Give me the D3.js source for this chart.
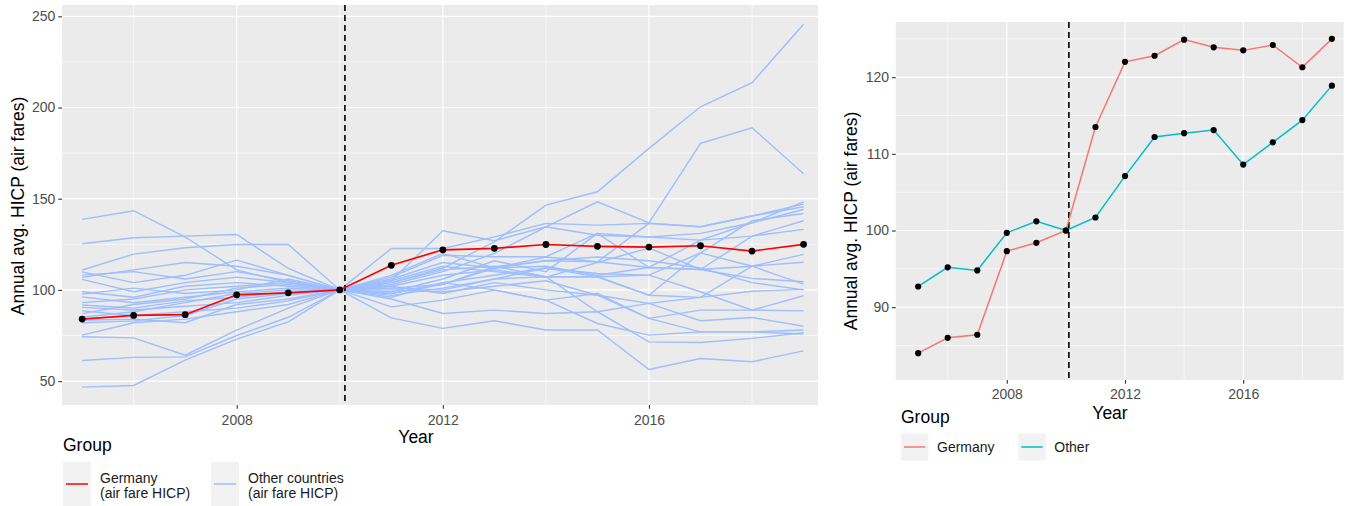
<!DOCTYPE html>
<html>
<head>
<meta charset="utf-8">
<script src="https://cdn.jsdelivr.net/npm/d3@7"></script>
<style>
  body { margin: 0; background: #fff; }
  text { font-family: "Liberation Sans", Arial, sans-serif; }
</style>
</head>
<body>
<div id="chart"></div>
<script>
/* HICP air fares: Germany vs other countries (two panels) */

const years = [2005, 2006, 2007, 2008, 2009, 2010, 2011, 2012, 2013, 2014, 2015, 2016, 2017, 2018, 2019];

const germany = [84.0, 86.0, 86.4, 97.3, 98.4, 100, 113.5, 122.0, 122.8, 124.9, 123.9, 123.5, 124.2, 121.3, 125.0];
const otherAvg = [92.7, 95.2, 94.8, 99.7, 101.2, 100, 101.7, 107.1, 112.2, 112.7, 113.1, 108.6, 111.5, 114.4, 118.9];

// one row per other country
const otherCountries = [
  [138.7, 143.4, 129.0, 111.0, 104.0, 100, 98.0, 103.0, 112.7, 116.0, 115.4, 112.3, 111.2, 106.3, 104.5],
  [125.3, 128.6, 129.5, 130.4, 111.8, 100, 107.0, 119.0, 118.2, 118.2, 131.0, 129.0, 127.3, 129.5, 133.2],
  [110.9, 119.6, 123.1, 124.9, 124.9, 100, 96.0, 104.0, 108.0, 112.0, 107.2, 108.1, 120.3, 113.0, 119.5],
  [109.9, 104.0, 108.0, 116.3, 108.0, 100, 122.7, 122.7, 129.1, 136.5, 135.5, 136.5, 134.6, 140.5, 147.0],
  [108.1, 110.0, 106.0, 110.0, 105.0, 100, 105.0, 132.4, 127.0, 134.6, 130.0, 129.0, 131.0, 136.8, 148.3],
  [106.9, 111.0, 115.0, 113.0, 108.0, 100, 104.0, 112.0, 126.4, 146.5, 153.8, 177.6, 200.4, 213.6, 245.6],
  [105.8, 99.0, 104.0, 107.0, 104.0, 100, 103.0, 110.0, 120.0, 134.6, 148.3, 136.8, 180.3, 188.9, 163.7],
  [99.0, 96.0, 102.0, 104.0, 102.0, 100, 99.0, 106.0, 116.0, 110.0, 131.0, 112.3, 127.3, 136.8, 144.1],
  [97.7, 101.0, 98.0, 100.0, 106.0, 100, 101.0, 103.0, 112.0, 118.0, 115.4, 136.5, 134.6, 140.5, 145.6],
  [96.2, 93.0, 96.0, 99.0, 101.0, 100, 102.0, 108.0, 111.0, 107.2, 107.2, 97.1, 120.3, 138.0, 141.9],
  [91.7, 90.0, 94.0, 96.0, 99.0, 100, 105.0, 113.0, 110.0, 107.0, 115.0, 123.0, 111.2, 129.5, 137.9],
  [90.4, 89.0, 91.0, 93.0, 97.0, 100, 100.0, 99.0, 102.0, 105.0, 97.1, 92.6, 95.9, 113.0, 115.2],
  [83.4, 84.0, 82.0, 92.0, 95.0, 100, 102.0, 98.0, 104.0, 100.0, 97.1, 84.4, 88.9, 88.9, 88.5],
  [88.5, 86.0, 88.0, 90.0, 94.0, 100, 104.0, 111.0, 113.0, 107.2, 107.2, 97.1, 95.9, 99.3, 100.3],
  [85.0, 88.0, 93.0, 98.0, 100.0, 100, 108.0, 120.0, 112.0, 113.0, 108.0, 112.3, 111.2, 113.0, 103.2],
  [82.0, 83.0, 86.0, 95.0, 98.0, 100, 97.0, 101.0, 106.0, 107.2, 88.0, 92.6, 83.1, 84.9, 80.1],
  [87.0, 92.0, 95.0, 101.0, 103.0, 100, 90.7, 94.4, 99.9, 94.4, 81.6, 75.2, 77.0, 77.0, 78.0],
  [46.7, 47.6, 61.5, 73.0, 82.5, 100, 84.7, 78.9, 83.1, 78.0, 78.0, 56.4, 62.4, 60.6, 66.6],
  [61.3, 63.0, 63.3, 75.0, 85.0, 100, 95.0, 87.1, 88.9, 87.1, 88.0, 71.5, 71.2, 73.4, 76.5],
  [74.3, 73.7, 64.2, 78.0, 90.0, 100, 98.0, 104.0, 100.0, 94.4, 98.0, 84.4, 77.0, 77.0, 75.8],
  [75.2, 82.0, 84.0, 88.0, 92.0, 100, 101.0, 100.0, 106.0, 112.0, 109.0, 108.1, 99.0, 88.9, 96.8],
  [93.0, 95.0, 100.0, 102.0, 104.0, 100, 106.0, 115.0, 112.0, 116.0, 118.0, 116.0, 112.0, 104.0, 100.0]
];

const xTicks = [2008, 2012, 2016];
const xMinor = [2006, 2010, 2014, 2018];
const leftYTicks = [50, 100, 150, 200, 250];
const leftYMinor = [75, 125, 175, 225];
const rightYTicks = [90, 100, 110, 120];
const rightYMinor = [85, 95, 105, 115, 125];
const breakYear = 2010.1;

const svg = d3.select("#chart")
  .append("svg")
  .attr("width", 1357)
  .attr("height", 506);

// draw one ggplot-style panel, returns scales + group
function panel(opt) {
  const x = d3.scaleLinear().domain(opt.xDomain).range([opt.left, opt.right]);
  const y = d3.scaleLinear().domain(opt.yDomain).range([opt.bottom, opt.top]);
  const g = svg.append("g");

  g.append("rect")
    .attr("x", opt.left).attr("y", opt.top)
    .attr("width", opt.right - opt.left).attr("height", opt.bottom - opt.top)
    .attr("fill", "#EBEBEB");

  // minor grid
  g.selectAll(".ymin").data(opt.yMinor).enter().append("line")
    .attr("x1", opt.left).attr("x2", opt.right)
    .attr("y1", d => y(d)).attr("y2", d => y(d))
    .attr("stroke", "#fff").attr("stroke-width", 0.6);
  g.selectAll(".xmin").data(xMinor).enter().append("line")
    .attr("y1", opt.top).attr("y2", opt.bottom)
    .attr("x1", d => x(d)).attr("x2", d => x(d))
    .attr("stroke", "#fff").attr("stroke-width", 0.6);
  // major grid
  g.selectAll(".ymaj").data(opt.yTicks).enter().append("line")
    .attr("x1", opt.left).attr("x2", opt.right)
    .attr("y1", d => y(d)).attr("y2", d => y(d))
    .attr("stroke", "#fff").attr("stroke-width", 1.2);
  g.selectAll(".xmaj").data(xTicks).enter().append("line")
    .attr("y1", opt.top).attr("y2", opt.bottom)
    .attr("x1", d => x(d)).attr("x2", d => x(d))
    .attr("stroke", "#fff").attr("stroke-width", 1.2);

  // axes
  const yAx = g.append("g")
    .attr("transform", "translate(" + opt.left + ",0)")
    .call(d3.axisLeft(y).tickValues(opt.yTicks).tickSize(3.7).tickPadding(3));
  const xAx = g.append("g")
    .attr("transform", "translate(0," + opt.bottom + ")")
    .call(d3.axisBottom(x).tickValues(xTicks).tickFormat(d3.format("d")).tickSize(3.7).tickPadding(3));
  [yAx, xAx].forEach(a => {
    a.select(".domain").remove();
    a.selectAll("line").attr("stroke", "#333").attr("stroke-width", 1.1);
    a.selectAll("text").attr("fill", "#4D4D4D").style("font-size", "14px")
      .style("font-family", "'Liberation Sans', Arial, sans-serif");
  });
  xAx.selectAll("text").attr("y", opt.xLabelY - opt.bottom).attr("dy", 0);

  return {x, y, g};
}

/* ---------- left panel ---------- */
const L = panel({
  left: 62, right: 818, top: 5, bottom: 405,
  xDomain: [2004.61, 2019.28], yDomain: [36.9, 256.2],
  yTicks: leftYTicks, yMinor: leftYMinor, xLabelY: 425
});

const lineL = d3.line().x((d, i) => L.x(years[i])).y(d => L.y(d));

L.g.selectAll(".other").data(otherCountries).enter().append("path")
  .attr("class", "other")
  .attr("fill", "none")
  .attr("stroke", "#9DBEFF")
  .attr("stroke-width", 1.4)
  .attr("d", lineL);

L.g.append("line")
  .attr("x1", L.x(breakYear)).attr("x2", L.x(breakYear))
  .attr("y1", 5).attr("y2", 405)
  .attr("stroke", "#000").attr("stroke-width", 1.6)
  .attr("stroke-dasharray", "6,4");

L.g.append("path")
  .attr("fill", "none")
  .attr("stroke", "#FF0000")
  .attr("stroke-width", 1.7)
  .attr("d", lineL(germany));

L.g.selectAll(".pt").data(germany).enter().append("circle")
  .attr("cx", (d, i) => L.x(years[i])).attr("cy", d => L.y(d))
  .attr("r", 3.4).attr("fill", "#000");

svg.append("text")
  .attr("transform", "translate(24,206) rotate(-90)")
  .attr("text-anchor", "middle")
  .style("font-size", "17.5px")
  .text("Annual avg. HICP (air fares)");

svg.append("text")
  .attr("x", 416).attr("y", 443)
  .attr("text-anchor", "middle")
  .style("font-size", "17.5px")
  .text("Year");

// left legend
svg.append("text").attr("x", 63).attr("y", 451).style("font-size", "17.5px").text("Group");
const legL = [
  {x: 63, color: "#FF0000", lines: ["Germany", "(air fare HICP)"]},
  {x: 211, color: "#9DBEFF", lines: ["Other countries", "(air fare HICP)"]}
];
legL.forEach(k => {
  svg.append("rect").attr("x", k.x).attr("y", 462).attr("width", 28).attr("height", 44).attr("fill", "#F2F2F2");
  svg.append("line").attr("x1", k.x + 3).attr("x2", k.x + 25).attr("y1", 484).attr("y2", 484)
    .attr("stroke", k.color).attr("stroke-width", 1.5);
  const t = svg.append("text").attr("x", k.x + 37).attr("y", 482.5).style("font-size", "14px").attr("fill", "#1a1a1a");
  t.append("tspan").attr("x", k.x + 37).text(k.lines[0]);
  t.append("tspan").attr("x", k.x + 37).attr("dy", 15).text(k.lines[1]);
});

/* ---------- right panel ---------- */
const R = panel({
  left: 895.7, right: 1343.7, top: 22, bottom: 380,
  xDomain: [2004.24, 2019.4], yDomain: [80.5, 127.2],
  yTicks: rightYTicks, yMinor: rightYMinor, xLabelY: 399.3
});

const lineR = d3.line().x((d, i) => R.x(years[i])).y(d => R.y(d));

R.g.append("line")
  .attr("x1", R.x(breakYear)).attr("x2", R.x(breakYear))
  .attr("y1", 22).attr("y2", 380)
  .attr("stroke", "#000").attr("stroke-width", 1.6)
  .attr("stroke-dasharray", "6,4");

const groups = [
  {name: "Germany", values: germany, color: "#F8766D"},
  {name: "Other", values: otherAvg, color: "#00BFC4"}
];

groups.forEach(s => {
  R.g.append("path")
    .attr("fill", "none")
    .attr("stroke", s.color)
    .attr("stroke-width", 1.5)
    .attr("d", lineR(s.values));
});
groups.forEach(s => {
  R.g.selectAll(null).data(s.values).enter().append("circle")
    .attr("cx", (d, i) => R.x(years[i])).attr("cy", d => R.y(d))
    .attr("r", 3.1).attr("fill", "#000");
});

svg.append("text")
  .attr("transform", "translate(857,221) rotate(-90)")
  .attr("text-anchor", "middle")
  .style("font-size", "17.5px")
  .text("Annual avg. HICP (air fares)");

svg.append("text")
  .attr("x", 1110).attr("y", 419)
  .attr("text-anchor", "middle")
  .style("font-size", "17.5px")
  .text("Year");

// right legend
svg.append("text").attr("x", 901).attr("y", 422.5).style("font-size", "17.5px").text("Group");
[{x: 901, g: groups[0]}, {x: 1018.3, g: groups[1]}].forEach(k => {
  svg.append("rect").attr("x", k.x).attr("y", 433.3).attr("width", 27.4).attr("height", 27.4).attr("fill", "#F2F2F2");
  svg.append("line").attr("x1", k.x + 3).attr("x2", k.x + 24.4).attr("y1", 447).attr("y2", 447)
    .attr("stroke", k.g.color).attr("stroke-width", 1.5);
  svg.append("text").attr("x", k.x + 36).attr("y", 452.3).style("font-size", "14px").attr("fill", "#1a1a1a")
    .text(k.g.name);
});
</script>
</body>
</html>
